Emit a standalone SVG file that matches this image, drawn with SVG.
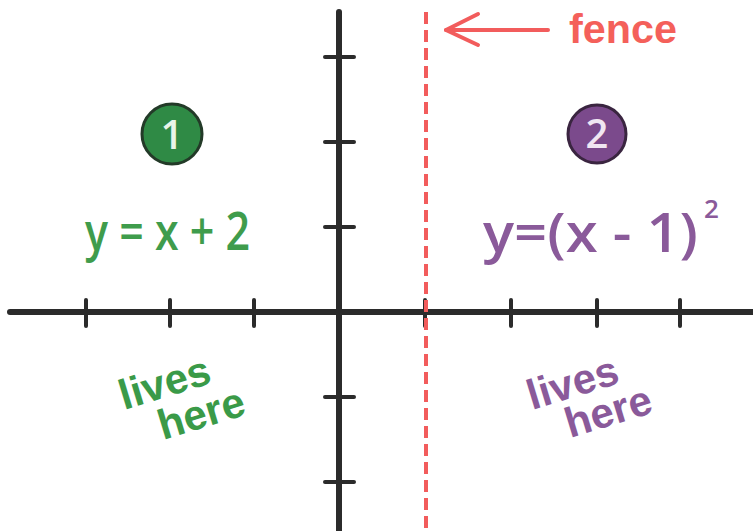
<svg xmlns="http://www.w3.org/2000/svg" width="753" height="531" viewBox="0 0 753 531">
<style>
.axis{stroke:#2b2b2b;stroke-width:6;stroke-linecap:round;fill:none}
.tick{stroke:#2b2b2b;stroke-width:4;stroke-linecap:round}
.fence{stroke:#f25c5c;stroke-width:4;stroke-dasharray:12 6;fill:none}
.hand{font-family:"Open Sans","Liberation Sans",sans-serif;font-weight:600}
.bold{font-family:"Liberation Sans",Arial,sans-serif;font-weight:bold}
</style>
<rect width="753" height="531" fill="#ffffff"/>
<g id="axes">
<line class="axis" x1="10" y1="312" x2="753" y2="312"/>
<line class="axis" x1="339" y1="12" x2="339" y2="531"/>
<g class="tick">
<line x1="86" y1="300" x2="86" y2="326"/>
<line x1="170" y1="300" x2="170" y2="326"/>
<line x1="254" y1="300" x2="254" y2="326"/>
<line x1="511" y1="300" x2="511" y2="326"/>
<line x1="597" y1="300" x2="597" y2="326"/>
<line x1="680" y1="300" x2="680" y2="326"/>
<line x1="425" y1="300" x2="425" y2="326"/>
<line x1="325" y1="57" x2="354" y2="57"/>
<line x1="325" y1="142" x2="354" y2="142"/>
<line x1="325" y1="227" x2="354" y2="227"/>
<line x1="325" y1="397" x2="354" y2="397"/>
<line x1="325" y1="482" x2="354" y2="482"/>
</g>
</g>
<g id="fence">
<line class="fence" x1="426" y1="12" x2="426" y2="531"/>
</g>
<g id="connectors">
<line x1="548" y1="30" x2="446" y2="30" stroke="#f25c5c" stroke-width="4" stroke-linecap="round"/>
<polyline points="478,14 446,30 478,45" stroke="#f25c5c" stroke-width="4" fill="none" stroke-linecap="round" stroke-linejoin="round"/>
</g>
<g id="fence-label">
<text class="bold" x="569" y="43" font-size="40" fill="#f4605a" textLength="108" lengthAdjust="spacingAndGlyphs">fence</text>
</g>
<g id="node1">
<circle cx="172" cy="134" r="30" fill="#2f8a45" stroke="#233a28" stroke-width="3"/>
<text class="hand" x="172" y="149" font-size="40" fill="#e8f5e8" text-anchor="middle">1</text>
<text class="hand" x="85" y="250" font-size="52" fill="#3f9c4c" textLength="165" lengthAdjust="spacingAndGlyphs">y = x + 2</text>
<text class="bold" font-size="42" fill="#3a9a48" transform="translate(124,410) rotate(-17)">lives</text>
<text class="bold" font-size="42" fill="#3a9a48" transform="translate(163,440) rotate(-17)">here</text>
</g>
<g id="node2">
<circle cx="597" cy="134" r="29" fill="#7b4a8c" stroke="#3a2540" stroke-width="3"/>
<text class="hand" x="597" y="148" font-size="40" fill="#f0e6f2" text-anchor="middle">2</text>
<text class="hand" x="483" y="252" font-size="54" fill="#8a5a9a" textLength="215" lengthAdjust="spacingAndGlyphs">y=(x - 1)</text>
<text class="hand" x="704" y="218" font-size="26" fill="#8a5a9a">2</text>
<text class="bold" font-size="42" fill="#8a5a9a" transform="translate(532,410) rotate(-17)">lives</text>
<text class="bold" font-size="42" fill="#8a5a9a" transform="translate(570,438) rotate(-17)">here</text>
</g>
</svg>
